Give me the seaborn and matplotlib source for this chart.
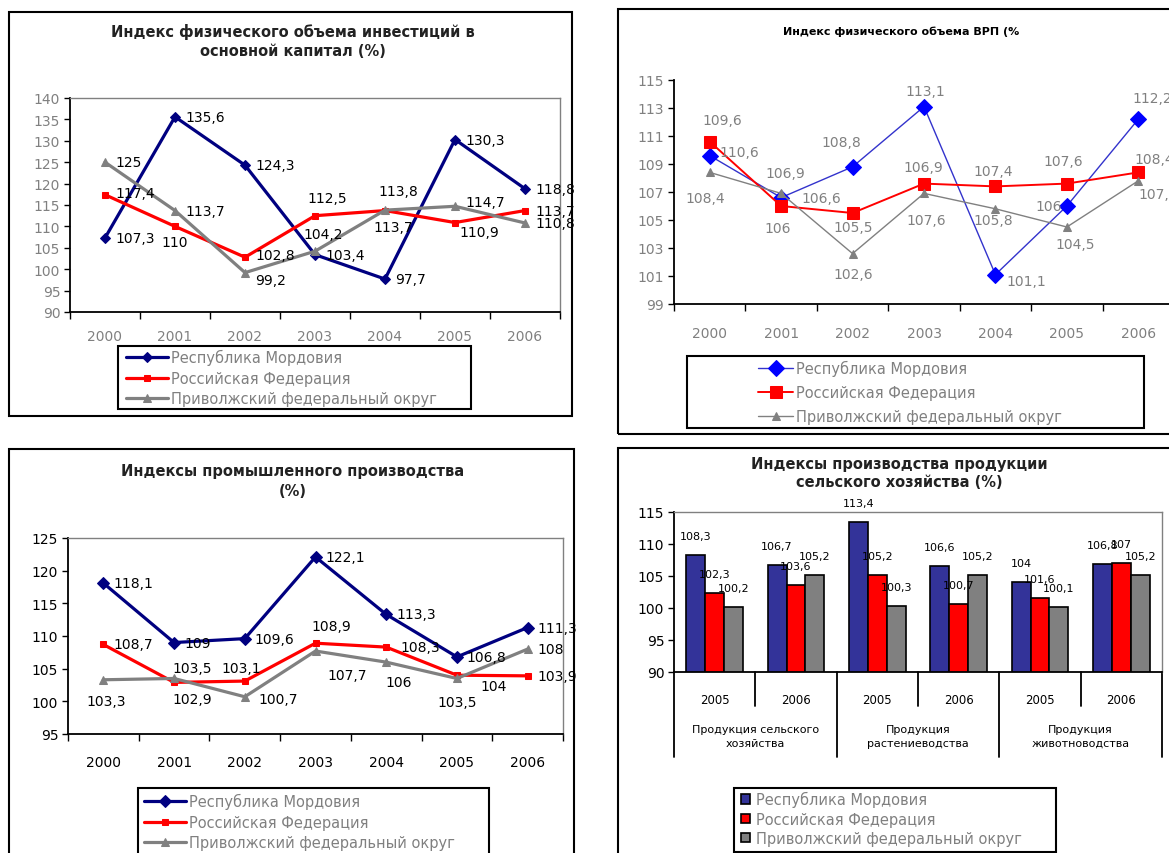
import numpy as np
import pandas as pd
import seaborn as sns
import matplotlib.pyplot as plt
from matplotlib.patches import Rectangle

# ---- data ----
years = ['2000', '2001', '2002', '2003', '2004', '2005', '2006']
series_names = ['Республика Мордовия', 'Российская Федерация', 'Приволжский федеральный округ']

inv_mordovia = [107.3, 135.6, 124.3, 103.4, 97.7, 130.3, 118.8]
inv_russia = [117.4, 110.0, 102.8, 112.5, 113.7, 110.9, 113.7]
inv_volga = [125.0, 113.7, 99.2, 104.2, 113.8, 114.7, 110.8]

grp_mordovia = [109.6, 106.6, 108.8, 113.1, 101.1, 106.0, 112.2]
grp_russia = [110.6, 106.0, 105.5, 107.6, 107.4, 107.6, 108.4]
grp_volga = [108.4, 106.9, 102.6, 106.9, 105.8, 104.5, 107.8]

ind_mordovia = [118.1, 109.0, 109.6, 122.1, 113.3, 106.8, 111.3]
ind_russia = [108.7, 102.9, 103.1, 108.9, 108.3, 104.0, 103.9]
ind_volga = [103.3, 103.5, 100.7, 107.7, 106.0, 103.5, 108.0]

agri_groups = ['Продукция сельского\nхозяйства', 'Продукция\nрастениеводства', 'Продукция\nживотноводства']
agri_years = ['2005', '2006']
agri_mordovia = [108.3, 106.7, 113.4, 106.6, 104.0, 106.8]
agri_russia = [102.3, 103.6, 105.2, 100.7, 101.6, 107.0]
agri_volga = [100.2, 105.2, 100.3, 105.2, 100.1, 105.2]

# label placement (dx, dy down, ha) in pixels
L, C, R = 'left', 'center', 'right'
inv_offsets = [
    [(10, 0, L)] * 7,
    [(10, -2, L), (0, 16, C), (10, -2, L), (12, -18, C), (8, 16, C), (24, 9, C), (10, 0, L)],
    [(10, 0, L), (10, 0, L), (10, 7, L), (8, -17, C), (13, -19, C), (10, -4, L), (10, 0, L)],
]
grp_offsets = [
    [(13, -36, C), (20, 0, L), (-11, -25, C), (1, -16, C), (11, 6, L), (-5, 0, R), (14, -21, C)],
    [(10, 10, L), (-3, 22, C), (1, 14, C), (2, 36, C), (-2, -15, C), (-4, -23, C), (16, -13, C)],
    [(-4, 26, C), (4, -20, C), (1, 20, C), (-1, -26, C), (-2, 11, C), (8, 17, C), (0, 13, L)],
]
ind_offsets = [
    [(10, 0, L)] * 7,
    [(10, 0, L), (18, 17, C), (-4, -13, C), (16, -17, C), (14, 0, L), (24, 11, L), (10, 0, L)],
    [(3, 21, C), (18, -10, C), (14, 2, L), (32, 24, C), (12, 20, C), (0, 24, C), (10, 0, L)],
]

W, H = 1169, 854
GRAY = '#808080'
NAVY = '#000080'
RED = '#FF0000'

sns.set_theme(style='white')
plt.rcParams['font.family'] = ['DejaVu Sans']
plt.rcParams['axes.linewidth'] = 1.0

fig = plt.figure(figsize=(W / 100, H / 100), dpi=100)


def px_rect(x0, y0, x1, y1):
    return [x0 / W, 1 - y1 / H, (x1 - x0) / W, (y1 - y0) / H]


def frame(x0, y0, x1, y1, lw=1.5):
    fig.add_artist(Rectangle((x0 / W, 1 - y1 / H), (x1 - x0) / W, (y1 - y0) / H,
                             transform=fig.transFigure, fill=False, ec='black', lw=lw, clip_on=False))


def fmt(v):
    return f'{v:g}'.replace('.', ',')


def style_axes(ax, gray_box=True, tick_color='black', fs=10):
    for s in ['left', 'bottom']:
        ax.spines[s].set_color('black')
        ax.spines[s].set_linewidth(1.3)
    for s in ['top', 'right']:
        if gray_box:
            ax.spines[s].set_color(GRAY)
            ax.spines[s].set_linewidth(1.0)
        else:
            ax.spines[s].set_visible(False)
    ax.tick_params(axis='y', which='major', direction='out', length=4, width=1,
                   color='black', labelcolor=tick_color, labelsize=fs, pad=3, left=True)


def line_panel(ax, data, colors, lws, markers, msizes, offsets, label_color, label_fs):
    xs = np.arange(len(years))
    for vals, name, col, lw, mk, ms in zip(data, series_names, colors, lws, markers, msizes):
        sns.lineplot(x=xs, y=vals, ax=ax, color=col, lw=lw, marker=mk, markersize=ms,
                     markeredgecolor=col, label=name, sort=False)
    for vals, offs in zip(data, offsets):
        for x, v, (dx, dy, ha) in zip(xs, vals, offs):
            ax.annotate(fmt(v), (x, v), xytext=(dx, -dy), textcoords='offset pixels',
                        ha=ha, va='center', fontsize=label_fs, color=label_color,
                        annotation_clip=False)
    ax.set_xlim(-0.5, len(years) - 0.5)
    ax.set_xticks(xs, years)
    ax.set_xticks(np.arange(-0.5, len(years)), minor=True)
    ax.tick_params(axis='x', which='minor', direction='out', length=5, width=1,
                   color='black', bottom=True)
    ax.set_xlabel('')
    ax.set_ylabel('')
    handles, labels = ax.get_legend_handles_labels()
    if ax.get_legend() is not None:
        ax.get_legend().remove()
    return handles, labels


def legend_box(handles, labels, box, anchor, fs, spacing, hlen, pad=0.2):
    frame(*box, lw=1.5)
    fig.legend(handles, labels, loc='upper left',
               bbox_to_anchor=(anchor[0] / W, 1 - anchor[1] / H),
               bbox_transform=fig.transFigure, frameon=False, borderpad=0,
               borderaxespad=0, fontsize=fs, labelcolor=GRAY, labelspacing=spacing,
               handlelength=hlen, handletextpad=pad)


# ---- panel 1: investments ----
frame(9, 13, 572, 417)
fig.text(293 / W, 1 - 32 / H, 'Индекс физического объема инвестиций в',
         ha='center', va='center', fontsize=10.5, fontweight='bold', color='#222222')
fig.text(293 / W, 1 - 52 / H, 'основной капитал (%)',
         ha='center', va='center', fontsize=10.5, fontweight='bold', color='#222222')
ax1 = fig.add_axes(px_rect(70, 99, 560, 313))
h1, l1 = line_panel(ax1, [inv_mordovia, inv_russia, inv_volga], [NAVY, RED, GRAY],
                    [2.3, 2.3, 2.3], ['D', 's', '^'], [5, 5, 6], inv_offsets, 'black', 10)
ax1.set_ylim(90, 140)
ax1.set_yticks(np.arange(90, 141, 5))
style_axes(ax1, gray_box=True, tick_color=GRAY, fs=10)
ax1.tick_params(axis='x', which='major', length=0, labelsize=10, labelcolor=GRAY, pad=12)
legend_box(h1, l1, (118, 347, 471, 410), (126, 350), 10.5, 0.38, 2.9)

# ---- panel 2: GRP ----
frame(618, 10, 1185, 435)
fig.text(901 / W, 1 - 32 / H, 'Индекс физического объема ВРП (%',
         ha='center', va='center', fontsize=8, fontweight='bold', color='black')
ax2 = fig.add_axes(px_rect(674, 81, 1174, 305))
h2, l2 = line_panel(ax2, [grp_mordovia, grp_russia, grp_volga], ['#0000FF', RED, GRAY],
                    [1.0, 1.4, 1.0], ['D', 's', '^'], [8, 9, 6], grp_offsets, GRAY, 10)
ax2.lines[0].set_color('#3333CC')
ax2.lines[0].set_markerfacecolor('#0000FF')
ax2.lines[0].set_markeredgecolor('#0000FF')
ax2.set_ylim(99, 115)
ax2.set_yticks(np.arange(99, 116, 2))
style_axes(ax2, gray_box=False, tick_color=GRAY, fs=10)
ax2.tick_params(axis='x', which='major', length=0, labelsize=10, labelcolor=GRAY, pad=16)
legend_box(h2, l2, (687, 357, 1144, 429), (758, 361), 10.5, 0.62, 2.4)

# ---- panel 3: industrial production ----
frame(9, 450, 574, 880)
fig.text(293 / W, 1 - 472 / H, 'Индексы промышленного производства',
         ha='center', va='center', fontsize=10.5, fontweight='bold', color='#222222')
fig.text(293 / W, 1 - 492 / H, '(%)',
         ha='center', va='center', fontsize=10.5, fontweight='bold', color='#222222')
ax3 = fig.add_axes(px_rect(68, 539, 563, 735))
h3, l3 = line_panel(ax3, [ind_mordovia, ind_russia, ind_volga], [NAVY, RED, GRAY],
                    [2.3, 2.3, 2.3], ['D', 's', '^'], [6, 5, 6], ind_offsets, 'black', 10)
ax3.set_ylim(95, 125)
ax3.set_yticks(np.arange(95, 126, 5))
style_axes(ax3, gray_box=True, tick_color='black', fs=10)
ax3.tick_params(axis='x', which='major', length=0, labelsize=10, labelcolor='black', pad=15)
legend_box(h3, l3, (138, 789, 489, 880), (144, 794), 10.5, 0.38, 2.9)

# ---- panel 4: agriculture ----
frame(618, 449, 1185, 880)
fig.text(899 / W, 1 - 464 / H, 'Индексы производства продукции',
         ha='center', va='center', fontsize=10.5, fontweight='bold', color='#222222')
fig.text(899 / W, 1 - 483 / H, 'сельского хозяйства (%)',
         ha='center', va='center', fontsize=10.5, fontweight='bold', color='#222222')
ax4 = fig.add_axes(px_rect(674, 513, 1162, 673))
bar_keys = [f'{g} {y}' for g in agri_groups for y in agri_years]
agri_df = pd.DataFrame({
    'group': bar_keys * 3,
    'value': agri_mordovia + agri_russia + agri_volga,
    'series': np.repeat(series_names, len(bar_keys)),
})
sns.barplot(data=agri_df, x='group', y='value', hue='series', order=bar_keys,
            hue_order=series_names, palette=['#333399', RED, GRAY], width=0.7,
            edgecolor='black', linewidth=1.2, saturation=1, ax=ax4)
h4, l4 = ax4.get_legend_handles_labels()
ax4.get_legend().remove()
for cont in ax4.containers:
    for bar in cont:
        v = bar.get_height()
        ax4.annotate(fmt(v), (bar.get_x() + bar.get_width() / 2, v), xytext=(0, 19),
                     textcoords='offset pixels', ha='center', va='center',
                     fontsize=8, color='black', annotation_clip=False)
ax4.set_ylim(90, 115)
ax4.set_yticks(np.arange(90, 116, 5))
ax4.set_xlim(-0.5, len(bar_keys) - 0.5)
ax4.set_xticks(range(len(bar_keys)), agri_years * len(agri_groups))
ax4.set_xlabel('')
ax4.set_ylabel('')
style_axes(ax4, gray_box=True, tick_color='black', fs=10)
ax4.tick_params(axis='x', which='major', length=0, labelsize=8.5, labelcolor='black', pad=15)
tr = ax4.get_xaxis_transform()
for i in range(len(bar_keys) + 1):
    xb = i - 0.5
    depth = -0.53 if i % 2 == 0 else -0.215
    ax4.plot([xb, xb], [0, depth], transform=tr, color='black', lw=1.3, clip_on=False)
for k, g in enumerate(agri_groups):
    ax4.text(2 * k + 0.5, -0.4, g, transform=tr, ha='center', va='center',
             fontsize=8, color='black', linespacing=1.4)
frame(734, 789, 1056, 853)
fig.legend(h4, l4, loc='upper left', bbox_to_anchor=(741 / W, 1 - 792 / H),
           bbox_transform=fig.transFigure, frameon=False, borderpad=0, borderaxespad=0,
           fontsize=10.5, labelcolor=GRAY, labelspacing=0.3, handlelength=0.6,
           handleheight=0.6, handletextpad=0.4)

fig.savefig('out.png', dpi=100)
